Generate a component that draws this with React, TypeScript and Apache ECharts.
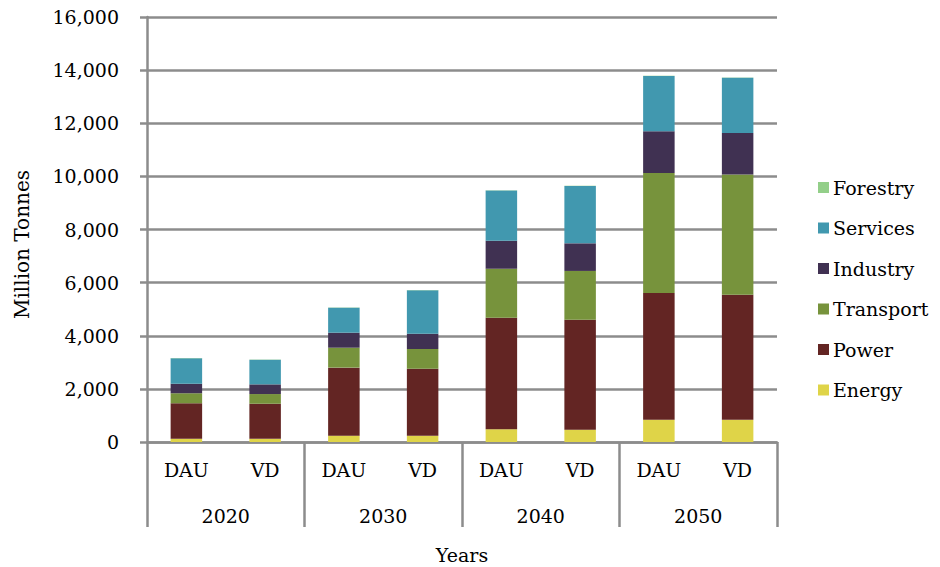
import React, { useEffect, useRef } from "react";
import * as echarts from "echarts";

// Scenario bars (DAU / VD) within each year
const scenarios = ["DAU", "VD", "DAU", "VD", "DAU", "VD", "DAU", "VD"];
const years = ["2020", "2030", "2040", "2050"];

// Emissions by sector, million tonnes, one value per scenario bar
const energy = [120, 120, 240, 240, 480, 465, 840, 840];
const power = [1340, 1320, 2560, 2520, 4200, 4140, 4770, 4705];
const transport = [375, 365, 750, 740, 1845, 1835, 4520, 4530];
const industry = [360, 365, 565, 580, 1055, 1040, 1570, 1555];
const services = [955, 925, 940, 1630, 1885, 2160, 2080, 2080];
const forestry = [10, 10, 10, 10, 10, 10, 10, 10];

const yTicks = { min: 0, max: 16000, interval: 2000 };

const FONT = "DejaVu Serif";
const GRID_GRAY = "#8c8c8c";

const sectors = [
  { name: "Energy", data: energy, color: "#dfd448" },
  { name: "Power", data: power, color: "#632523" },
  { name: "Transport", data: transport, color: "#77933c" },
  { name: "Industry", data: industry, color: "#403152" },
  { name: "Services", data: services, color: "#4198af" },
  { name: "Forestry", data: forestry, color: "#93cf89" },
];

export default function App() {
  const ref = useRef<HTMLDivElement>(null);

  useEffect(() => {
    if (!ref.current) return;
    const chart = echarts.init(ref.current, undefined, { renderer: "svg" });
    chart.setOption({
      animation: false,
      backgroundColor: "#ffffff",
      textStyle: { fontFamily: FONT, color: "#000" },
      grid: {
        left: 147,
        right: 163,
        top: 17,
        bottom: 125,
        containLabel: false,
        outerBoundsMode: "none",
      },
      legend: {
        orient: "vertical",
        left: 813,
        top: 173,
        itemWidth: 11,
        itemHeight: 11,
        itemGap: 21.5,
        icon: "rect",
        data: ["Forestry", "Services", "Industry", "Transport", "Power", "Energy"],
        textStyle: { fontFamily: FONT, fontSize: 19, color: "#000", padding: [0, 0, 0, -1] },
      },
      xAxis: [
        {
          type: "category",
          data: scenarios,
          position: "bottom",
          axisLine: { show: true, lineStyle: { color: GRID_GRAY, width: 2.5 } },
          axisTick: { show: false },
          axisLabel: { fontFamily: FONT, fontSize: 19, color: "#000", margin: 18 },
        },
        {
          type: "category",
          data: years,
          position: "bottom",
          offset: 0,
          axisLine: { show: false },
          axisTick: { show: true, length: 85, lineStyle: { color: GRID_GRAY, width: 2.5 } },
          axisLabel: { fontFamily: FONT, fontSize: 19, color: "#000", margin: 64 },
          name: "Years",
          nameLocation: "middle",
          nameGap: 103,
          nameTextStyle: { fontFamily: FONT, fontSize: 19, color: "#000" },
        },
      ],
      yAxis: {
        type: "value",
        min: yTicks.min,
        max: yTicks.max,
        interval: yTicks.interval,
        axisLine: { show: true, lineStyle: { color: GRID_GRAY, width: 2.5 } },
        axisTick: { show: true, length: 7, lineStyle: { color: GRID_GRAY, width: 2.5 } },
        splitLine: { show: true, lineStyle: { color: GRID_GRAY, width: 2.5 } },
        axisLabel: {
          fontFamily: FONT,
          fontSize: 19,
          color: "#000",
          margin: 28,
          formatter: (v: number) => v.toLocaleString("en-US"),
        },
      },
      graphic: [
        {
          type: "text",
          left: 12,
          top: 170,
          rotation: Math.PI / 2,
          style: {
            text: "Million Tonnes",
            fontFamily: FONT,
            fontSize: 20,
            fill: "#000",
          },
        },
      ],
      series: sectors.map((s) => ({
        name: s.name,
        type: "bar",
        stack: "total",
        xAxisIndex: 0,
        barWidth: "40%",
        data: s.data,
        itemStyle: { color: s.color },
        emphasis: { disabled: true },
      })),
    });
    return () => chart.dispose();
  }, []);

  return (
    <div
      ref={ref}
      style={{ position: "fixed", left: 0, top: 0, width: 940, height: 567 }}
    />
  );
}
